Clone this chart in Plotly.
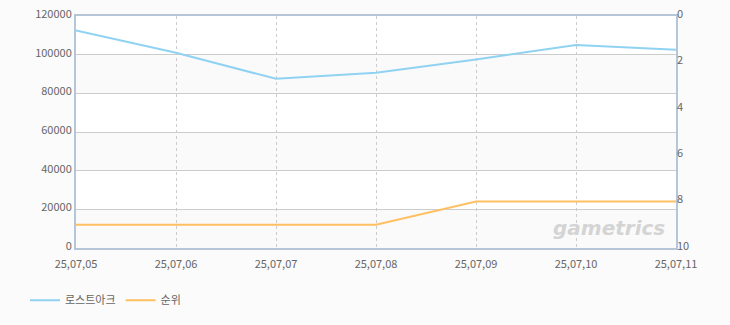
import plotly.graph_objects as go

dates = ["25,07,05", "25,07,06", "25,07,07", "25,07,08", "25,07,09", "25,07,10", "25,07,11"]
users = [112500, 101000, 87500, 90700, 97500, 105000, 102500]
rank = [9, 9, 9, 9, 8, 8, 8]
y_ticks = [0, 20000, 40000, 60000, 80000, 100000, 120000]
y2_ticks = [0, 2, 4, 6, 8, 10]

font = dict(family="Noto Sans CJK KR, DejaVu Sans, sans-serif", size=11, color="#666666")

fig = go.Figure()
fig.add_trace(go.Scatter(x=dates, y=users, name="로스트아크", mode="lines",
                         line=dict(color="#90d2f2", width=2), yaxis="y"))
fig.add_trace(go.Scatter(x=dates, y=rank, name="순위", mode="lines",
                         line=dict(color="#ffc062", width=2), yaxis="y2"))

shapes = []
for i in range(0, len(y_ticks) - 1, 2):
    shapes.append(dict(type="rect", xref="paper", yref="y", x0=0, x1=1,
                       y0=y_ticks[i], y1=y_ticks[i + 1], fillcolor="#fafafa",
                       line=dict(width=0), layer="below"))
for i in range(1, len(y_ticks) - 1, 2):
    shapes.append(dict(type="rect", xref="paper", yref="y", x0=0, x1=1,
                       y0=y_ticks[i], y1=y_ticks[i + 1], fillcolor="#ffffff",
                       line=dict(width=0), layer="below"))

fig.update_layout(
    width=730, height=325,
    margin=dict(l=76, r=54, t=16, b=77, autoexpand=False),
    paper_bgcolor="#fbfbfb", plot_bgcolor="#ffffff",
    font=font,
    shapes=shapes,
    showlegend=True,
    legend=dict(orientation="h", x=-0.085, y=-0.225, xanchor="left", yanchor="middle",
                font=dict(size=11, color="#666666"), bgcolor="rgba(0,0,0,0)",
                itemwidth=30),
    xaxis=dict(type="category", range=[0, len(dates) - 1], showgrid=True,
               gridcolor="#cccccc", griddash="3px,3px", gridwidth=1,
               showline=True, linecolor="#b4c6d8", linewidth=2, mirror=True,
               ticks="", tickfont=font, zeroline=False, automargin=False,
               ticklabelstandoff=5),
    yaxis=dict(range=[0, 120000], tickvals=y_ticks, ticktext=[str(v) for v in y_ticks],
               showgrid=True, gridcolor="#cccccc", gridwidth=1,
               showline=True, linecolor="#b4c6d8", linewidth=2, mirror=True,
               ticks="", tickfont=font, zeroline=False, automargin=False,
               ticklabelshift=-2),
    yaxis2=dict(range=[10, 0], tickvals=y2_ticks, overlaying="y", side="right",
                showgrid=False, showline=False, ticks="", tickfont=font, zeroline=False,
                automargin=False, ticklabelshift=2),
    annotations=[dict(text="<b><i>gametrics</i></b>", xref="paper", yref="paper",
                      x=0.985, y=0.085, xanchor="right", yanchor="middle", showarrow=False,
                      font=dict(family="DejaVu Sans, sans-serif", size=20, color="#d4d4d4"))],
)

fig.write_html("out.html")
